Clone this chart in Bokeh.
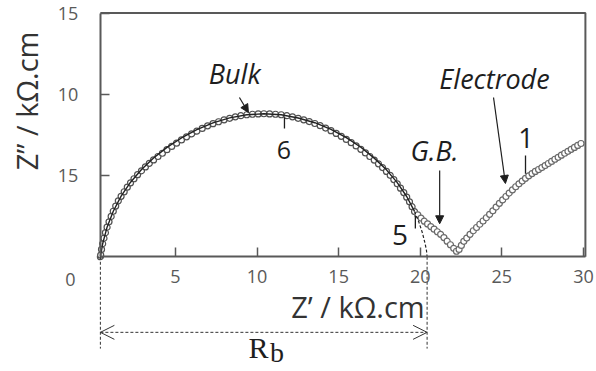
import math
from bokeh.plotting import figure
from bokeh.models import Range1d, LinearAxis, FixedTicker, Label, Arrow, OpenHead, NormalHead
from bokeh.embed import file_html
from bokeh.resources import INLINE

# ---- data ----
bulk_x = [0.40, 0.42, 0.47, 0.54, 0.62, 0.71, 0.81, 0.93, 1.06, 1.19,
          1.34, 1.50, 1.67, 1.86, 2.05, 2.25, 2.46, 2.68, 2.92, 3.16,
          3.40, 3.66, 3.93, 4.20, 4.48, 4.77, 5.07, 5.37, 5.68, 5.99,
          6.31, 6.64, 6.97, 7.30, 7.64, 7.98, 8.32, 8.67, 9.01, 9.37,
          9.72, 10.07, 10.42, 10.77, 11.13, 11.48, 11.83, 12.17, 12.52, 12.86,
          13.20, 13.54, 13.87, 14.20, 14.53, 14.85, 15.16, 15.47, 15.77, 16.07,
          16.36, 16.64, 16.91, 17.18, 17.44, 17.69, 17.93, 18.16, 18.38, 18.59,
          18.79, 18.99, 19.17, 19.34, 19.50, 19.65]
bulk_y = [0.00, 0.10, 0.45, 0.80, 1.14, 1.48, 1.82, 2.15, 2.48, 2.80,
          3.12, 3.44, 3.72, 4.00, 4.28, 4.55, 4.80, 5.05, 5.29, 5.53,
          5.75, 5.96, 6.17, 6.37, 6.59, 6.79, 6.99, 7.19, 7.38, 7.56,
          7.73, 7.90, 8.06, 8.19, 8.31, 8.43, 8.52, 8.61, 8.68, 8.74,
          8.77, 8.79, 8.80, 8.79, 8.77, 8.74, 8.68, 8.61, 8.52, 8.43,
          8.32, 8.20, 8.07, 7.92, 7.76, 7.59, 7.41, 7.22, 7.02, 6.82,
          6.61, 6.39, 6.17, 5.95, 5.72, 5.49, 5.25, 5.01, 4.75, 4.49,
          4.22, 3.95, 3.67, 3.38, 3.08, 2.78]

gb_x = [19.85, 20.05, 20.25, 20.45, 20.65, 20.85, 21.05, 21.25, 21.45, 21.65, 21.85, 22.05, 22.22]
gb_y = [2.58, 2.38, 2.19, 2.02, 1.86, 1.70, 1.54, 1.38, 1.18, 0.96, 0.74, 0.52, 0.34]

elec_x = [22.38, 22.52, 22.67, 22.85, 23.05, 23.25, 23.45, 23.65, 23.85, 24.05,
          24.25, 24.45, 24.65, 24.85, 25.05, 25.25, 25.45, 25.65, 25.85, 26.05,
          26.25, 26.45, 26.65, 26.85, 27.05, 27.25, 27.45, 27.65, 27.85, 28.05,
          28.25, 28.45, 28.65, 28.85, 29.05, 29.25, 29.45, 29.65, 29.85]
elec_y = [0.45, 0.70, 0.95, 1.15, 1.38, 1.60, 1.80, 2.00, 2.20, 2.40,
          2.61, 2.83, 3.06, 3.29, 3.50, 3.71, 3.92, 4.12, 4.31, 4.49,
          4.66, 4.83, 4.98, 5.12, 5.25, 5.37, 5.49, 5.61, 5.74, 5.87,
          6.00, 6.12, 6.25, 6.37, 6.49, 6.61, 6.73, 6.85, 6.97]

fit_x = [0.40, 0.54, 0.81, 1.19, 1.67, 2.25, 2.92, 3.66, 4.48, 5.37, 6.31, 7.30, 8.32,
         9.37, 10.42, 11.48, 12.52, 13.54, 14.53, 15.47, 16.36, 17.18, 17.93, 18.59, 19.17, 19.65]
fit_y = [0.00, 0.80, 1.82, 2.80, 3.73, 4.59, 5.37, 6.08, 6.73, 7.31, 7.82, 8.24, 8.55,
         8.74, 8.80, 8.74, 8.54, 8.25, 7.84, 7.33, 6.74, 6.07, 5.35, 4.56, 3.71, 2.79]
fit_ext_x = [19.65, 19.91, 20.13, 20.30, 20.38, 20.42]
fit_ext_y = [2.79, 2.15, 1.48, 0.80, 0.40, 0.00]

R0 = 0.40      # start of bulk arc (Z')
RB = 20.42     # bulk resistance intercept (Z')

freq_mark_x = [11.68, 19.70, 26.45]
freq_mark_top = [8.57, 2.54, 6.23]
freq_mark_bot = [7.90, 1.74, 5.11]
freq_mark_labels = ["6", "5", "1"]

x_ticks = [5, 10, 15, 20, 25, 30]
y_ticks = [5, 10, 15]
y_tick_labels = ["15", "10", "15"]
X_AXIS_END = 30.12
Y_AXIS_END = 15

AX = "#595959"
TXT = "#1e1e1e"
SANS = "Open Sans"

p = figure(width=596, height=371,
           x_range=Range1d(-5.72, 30.80), y_range=Range1d(-7.06, 15.77),
           output_backend="svg", toolbar_location=None,
           x_axis_location=None, y_axis_location=None, min_border=0)
p.min_border_left = 0
p.min_border_right = 0
p.min_border_top = 0
p.min_border_bottom = 0
p.outline_line_color = None
p.background_fill_color = "white"
p.border_fill_color = "white"
p.xgrid.visible = False
p.ygrid.visible = False

xa = LinearAxis(fixed_location=0, bounds=(R0, X_AXIS_END), ticker=FixedTicker(ticks=x_ticks))
ya = LinearAxis(fixed_location=R0, bounds=(0, Y_AXIS_END), ticker=FixedTicker(ticks=y_ticks),
                major_label_overrides={t: s for t, s in zip(y_ticks, y_tick_labels)})
for ax in (xa, ya):
    ax.axis_line_color = AX
    ax.axis_line_width = 2
    ax.major_tick_line_color = AX
    ax.major_tick_line_width = 1.5
    ax.major_tick_in = 9
    ax.major_tick_out = 0
    ax.minor_tick_line_color = None
    ax.major_label_text_font = SANS
    ax.major_label_text_font_size = "18px"
    ax.major_label_text_color = AX
xa.major_label_standoff = 13
ya.major_label_standoff = 22
p.add_layout(xa, "below")
p.add_layout(ya, "left")

# plot box (top and right sides)
p.line([R0, X_AXIS_END, X_AXIS_END], [Y_AXIS_END, Y_AXIS_END, 0], line_color=AX, line_width=2)

# data markers
p.scatter(bulk_x, bulk_y, marker="circle", size=6, line_color="#505050", fill_color="white", line_width=1.2)
p.scatter(gb_x, gb_y, marker="circle", size=6, line_color="#6a6a6a", fill_color="white", line_width=1.2)
p.scatter(elec_x, elec_y, marker="circle", size=6, line_color="#6a6a6a", fill_color="white", line_width=1.2)

# fit
p.line(fit_x, fit_y, line_color="#222222", line_width=1.4)
p.line(fit_ext_x, fit_ext_y, line_color="#222222", line_width=1.2, line_dash="3 2")

# Rb dimension lines
p.segment(x0=[R0, RB], y0=[0, 0], x1=[R0, RB], y1=[-5.65, -5.65],
          line_color="#333333", line_width=1, line_dash="3 2")
p.add_layout(Arrow(x_start=R0, y_start=-4.65, x_end=RB, y_end=-4.65,
                   line_color="#333333", line_width=1, line_dash="3 2",
                   start=OpenHead(size=14, line_color="#333333", line_width=1),
                   end=OpenHead(size=14, line_color="#333333", line_width=1)))

# frequency markers
p.segment(x0=freq_mark_x, y0=freq_mark_top, x1=freq_mark_x, y1=freq_mark_bot,
          line_color=TXT, line_width=1.3)
for (lx, ly, fs), s in zip([(11.65, 6.60, "25px"), (18.76, 1.31, "28px"), (26.48, 7.33, "27px")], freq_mark_labels):
    p.add_layout(Label(x=lx, y=ly, text=s, text_font=SANS, text_font_size=fs,
                       text_color=TXT, text_align="center", text_baseline="alphabetic"))

# region labels and pointers
for lx, ly, s in [(8.63, 11.26, "Bulk"), (20.87, 6.53, "G.B."), (24.55, 10.95, "Electrode")]:
    p.add_layout(Label(x=lx, y=ly, text=s, text_font=SANS, text_font_size="27px",
                       text_font_style="italic", text_color=TXT,
                       text_align="center", text_baseline="alphabetic"))
for xs, ys, xe, ye in [(8.92, 9.80, 9.47, 8.88), (21.19, 5.31, 21.19, 2.03), (24.49, 9.80, 25.22, 4.51)]:
    p.add_layout(Arrow(x_start=xs, y_start=ys, x_end=xe, y_end=ye, line_color=TXT, line_width=1.2,
                       end=NormalHead(size=8, fill_color=TXT, line_color=TXT)))

# axis titles and origin label
p.add_layout(Label(x=16.18, y=-3.03, text="Z\u2019 / k\u03a9.cm", text_font=SANS, text_font_size="29px",
                   text_color="#333333", text_align="center", text_baseline="alphabetic"))
p.add_layout(Label(x=-4.11, y=9.59, text="Z\u201d / k\u03a9.cm", text_font=SANS, text_font_size="29px",
                   text_color="#333333", text_align="center", text_baseline="alphabetic",
                   angle=math.pi / 2))
p.add_layout(Label(x=-1.43, y=-1.37, text="0", text_font=SANS, text_font_size="18px",
                   text_color=AX, text_align="center", text_baseline="alphabetic"))
p.add_layout(Label(x=9.47, y=-5.60, text="R", text_font="Liberation Serif", text_font_size="30px",
                   text_color=TXT, text_align="left", text_baseline="alphabetic"))
p.add_layout(Label(x=10.80, y=-5.88, text="b", text_font="Liberation Serif", text_font_size="28px",
                   text_color=TXT, text_align="left", text_baseline="alphabetic"))

open("out.html", "w").write(file_html(p, INLINE))
